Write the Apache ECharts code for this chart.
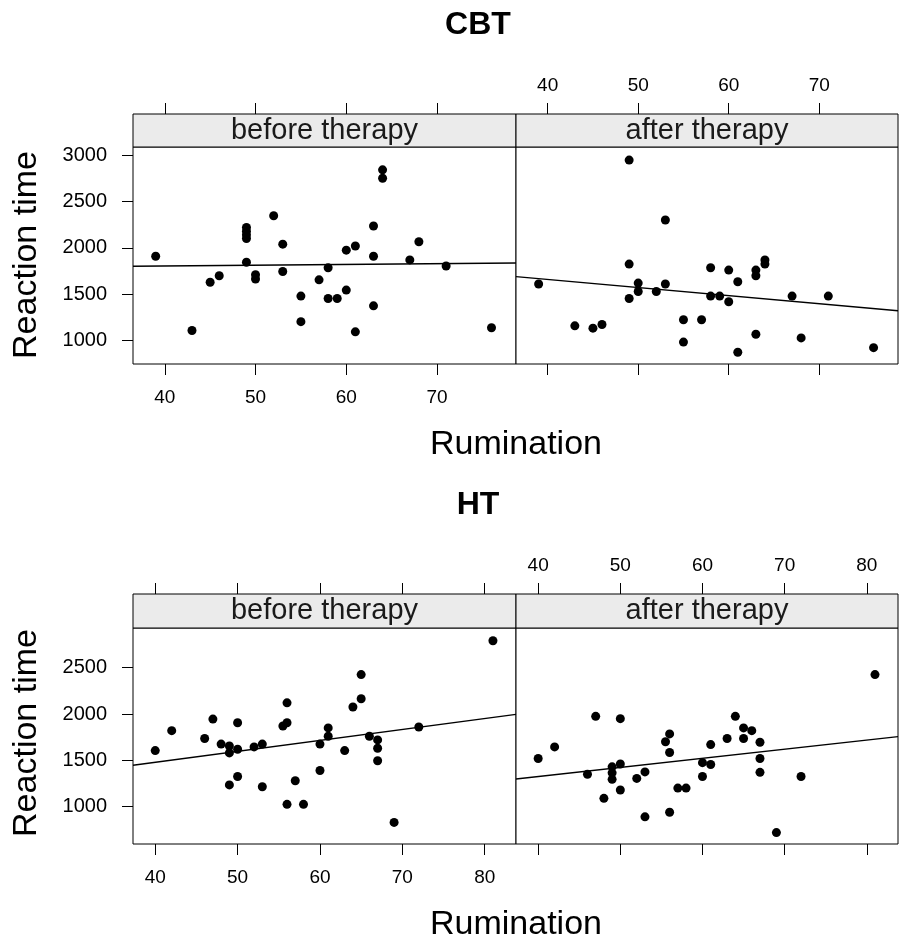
<!DOCTYPE html>
<html>
<head>
<meta charset="utf-8">
<script src="https://cdn.jsdelivr.net/npm/echarts@6/dist/echarts.min.js"></script>
<style>
html,body{margin:0;padding:0;background:#fff;}
#chart{width:899px;height:940px;}
</style>
</head>
<body>
<div id="chart"></div>
<script>
// ---------- data ----------
const groupTitles = ['CBT', 'HT'];
const stripLabels = ['before therapy', 'after therapy'];
const xTitle = 'Rumination';
const yTitle = 'Reaction time';

const cbtXTicks = [40, 50, 60, 70];
const htXTicks = [40, 50, 60, 70, 80];
const cbtYTicks = [1000, 1500, 2000, 2500, 3000];
const htYTicks = [1000, 1500, 2000, 2500];

const cbtBeforeX = [39,43,45,46,49,49,49,49,49,50,50,52,53,53,55,55,57,58,58,59,60,60,61,61,63,63,63,64,64,67,68,71,76];
const cbtBeforeY = [1910,1110,1630,1700,2220,2180,2140,2100,1845,1710,1665,2345,2040,1745,1480,1205,1655,1785,1455,1455,1545,1975,2020,1095,2235,1910,1375,2840,2750,1870,2065,1805,1140];

const cbtAfterX = [39,43,45,46,49,49,49,50,50,52,53,53,55,55,57,58,58,59,60,60,61,61,63,63,64,64,63,67,68,71,76];
const cbtAfterY = [1610,1160,1135,1175,2945,1825,1455,1620,1530,1530,1610,2300,1225,985,1225,1785,1480,1480,1760,1420,1635,875,1760,1700,1870,1825,1070,1480,1030,1480,925];

const htBeforeX = [40,42,46,47,48,49,49,49,50,50,50,52,53,53,56,55.5,56,56,58,57,60,60,61,61,63,64,65,65,66,67,67,67,69,72,81];
const htBeforeY = [1605,1820,1735,1945,1675,1655,1580,1235,1620,1905,1325,1645,1675,1215,2120,1870,1905,1025,1025,1280,1675,1390,1850,1760,1605,2075,2425,2165,1760,1720,1630,1495,830,1860,2790];

const htAfterX = [40,42,46,47,48,49,49,49,50,50,50,52,53,53,55.5,56,56,56,57,58,60,60,61,61,63,64,65,65,66,67,67,67,69,72,81];
const htAfterY = [1520,1645,1350,1975,1090,1430,1365,1295,1460,1950,1180,1305,1375,890,1700,1785,1585,940,1200,1200,1475,1325,1670,1455,1735,1975,1850,1735,1820,1695,1520,1370,720,1325,2425];

// axis ranges (panel limits)
const cbtXRange = [36.5, 78.7];
const htXRange = [37.3, 83.8];
const cbtYRange = [749, 3086];
const htYRange = [597, 2928];

// ---------- helpers ----------
function pairs(xs, ys) { return xs.map((x, i) => [x, ys[i]]); }
function lmLine(xs, ys, range) {
  const n = xs.length;
  const mx = xs.reduce((a, b) => a + b, 0) / n;
  const my = ys.reduce((a, b) => a + b, 0) / n;
  let sxy = 0, sxx = 0;
  for (let i = 0; i < n; i++) { sxy += (xs[i] - mx) * (ys[i] - my); sxx += (xs[i] - mx) * (xs[i] - mx); }
  const b = sxy / sxx, a = my - b * mx;
  return [[range[0], a + b * range[0]], [range[1], a + b * range[1]]];
}

const FONT = '"Liberation Sans", Arial, sans-serif';
const panels = [
  { left: 133, top: 147, width: 383, height: 217, strip: 33, xr: cbtXRange, yr: cbtYRange, xt: cbtXTicks, yt: cbtYTicks, xs: cbtBeforeX, ys: cbtBeforeY, pos: 'left' },
  { left: 516, top: 147, width: 382, height: 217, strip: 33, xr: cbtXRange, yr: cbtYRange, xt: cbtXTicks, yt: cbtYTicks, xs: cbtAfterX, ys: cbtAfterY, pos: 'right' },
  { left: 133, top: 628, width: 383, height: 216, strip: 34, xr: htXRange, yr: htYRange, xt: htXTicks, yt: htYTicks, xs: htBeforeX, ys: htBeforeY, pos: 'left' },
  { left: 516, top: 628, width: 382, height: 216, strip: 34, xr: htXRange, yr: htYRange, xt: htXTicks, yt: htYTicks, xs: htAfterX, ys: htAfterY, pos: 'right' }
];

const grid = [], xAxis = [], yAxis = [], series = [], graphic = [];
const tickStyle = { color: '#000', width: 1 };
const labelStyle = { color: '#000', fontSize: 19, fontFamily: FONT, formatter: v => String(v) };

panels.forEach((p, i) => {
  grid.push({ left: p.left, top: p.top, width: p.width, height: p.height, show: true, borderColor: '#000', borderWidth: 1, backgroundColor: '#fff', containLabel: false });
  const isLeft = p.pos === 'left';
  xAxis.push({
    type: 'value', gridIndex: i, position: 'bottom', min: p.xr[0], max: p.xr[1],
    axisLine: { show: false }, splitLine: { show: false },
    axisTick: { show: true, inside: false, length: 11, lineStyle: tickStyle, customValues: p.xt },
    axisLabel: Object.assign({ show: isLeft, margin: 24, customValues: p.xt }, labelStyle)
  });
  xAxis.push({
    type: 'value', gridIndex: i, position: 'top', offset: p.strip, min: p.xr[0], max: p.xr[1],
    axisLine: { show: false }, splitLine: { show: false },
    axisTick: { show: true, inside: false, length: 11, lineStyle: tickStyle, customValues: p.xt },
    axisLabel: Object.assign({ show: !isLeft, margin: 19, customValues: p.xt }, labelStyle)
  });
  yAxis.push({
    type: 'value', gridIndex: i, position: 'left', min: p.yr[0], max: p.yr[1],
    axisLine: { show: false }, splitLine: { show: false },
    axisTick: { show: isLeft, inside: false, length: 11, lineStyle: tickStyle, customValues: p.yt },
    axisLabel: Object.assign({ show: isLeft, margin: 26, customValues: p.yt }, labelStyle, { fontSize: 20 })
  });
  series.push({
    type: 'scatter', xAxisIndex: i * 2, yAxisIndex: i, data: pairs(p.xs, p.ys),
    symbol: 'circle', symbolSize: 9, itemStyle: { color: '#000', opacity: 1 }, silent: true
  });
  series.push({
    type: 'line', xAxisIndex: i * 2, yAxisIndex: i, data: lmLine(p.xs, p.ys, p.xr),
    showSymbol: false, lineStyle: { color: '#000', width: 1.4 }, silent: true, z: 3
  });
  graphic.push({
    type: 'rect', shape: { x: p.left, y: p.top - p.strip, width: p.width, height: p.strip },
    style: { fill: '#ebebeb', stroke: '#000', lineWidth: 1 }, silent: true
  });
  graphic.push({
    type: 'text', x: p.left + p.width / 2, y: p.top - p.strip / 2,
    style: { text: stripLabels[i % 2], align: 'center', verticalAlign: 'middle', font: '29px ' + FONT, fill: '#1a1a1a' }, silent: true
  });
});

[[0, 25, 445, 255], [1, 505, 925, 733]].forEach(([g, ty, xy, yy]) => {
  graphic.push({ type: 'text', x: 478, y: ty, style: { text: groupTitles[g], align: 'center', verticalAlign: 'middle', font: 'bold 32px ' + FONT, fill: '#000' }, silent: true });
  graphic.push({ type: 'text', x: 516, y: xy, style: { text: xTitle, align: 'center', verticalAlign: 'middle', font: '34px ' + FONT, fill: '#000' }, silent: true });
  graphic.push({ type: 'text', x: 27, y: yy, rotation: Math.PI / 2, style: { text: yTitle, align: 'center', verticalAlign: 'middle', font: '34px ' + FONT, fill: '#000' }, silent: true });
});

const chart = echarts.init(document.getElementById('chart'), null, { renderer: 'canvas' });
chart.setOption({ animation: false, backgroundColor: '#fff', grid, xAxis, yAxis, series, graphic });
</script>
</body>
</html>
